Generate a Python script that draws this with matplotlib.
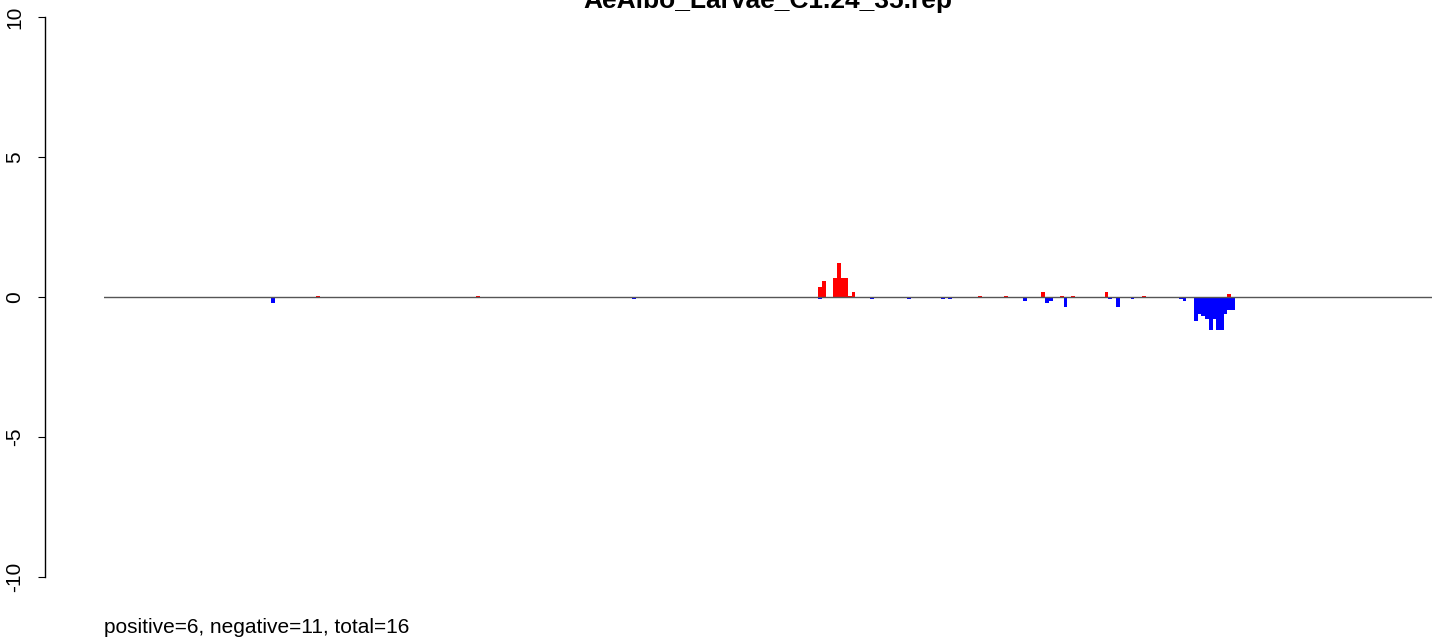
import numpy as np
import matplotlib as mpl
mpl.use('Agg')
import matplotlib.pyplot as plt

plt.rcParams['font.family'] = ['Liberation Sans', 'DejaVu Sans']

title = 'AeAlbo_Larvae_C1.24_35.rep'
footer = 'positive=6, negative=11, total=16'
nbins = 357

# positive (red) bins
pos_idx = [57, 100, 192, 193, 196, 197, 198, 199, 200, 201, 235, 242, 252,
           257, 260, 269, 279, 302]
pos_val = [0.04, 0.04, 0.36, 0.57, 0.68, 1.21, 0.68, 0.68, 0.04, 0.18, 0.05,
           0.05, 0.18, 0.05, 0.05, 0.18, 0.05, 0.11]

# negative (blue) bins
neg_idx = [45, 142, 192, 206, 216, 225, 227, 247, 253, 254, 258, 270, 272,
           276, 289, 290, 293, 294, 295, 296, 297, 298, 299, 300, 301, 302, 303]
neg_val = [-0.21, -0.07, -0.07, -0.07, -0.07, -0.07, -0.07, -0.14, -0.21,
           -0.14, -0.36, -0.07, -0.36, -0.07, -0.07, -0.14, -0.86, -0.61,
           -0.68, -0.77, -1.18, -0.77, -1.18, -1.18, -0.61, -0.46, -0.46]

yticks = [-10, -5, 0, 5, 10]

W, H = 1444, 643
fig = plt.figure(figsize=(W / 100, H / 100), dpi=100)
# plot region in pixels: x 104..1432, y 5.8..588.2
ax = fig.add_axes([104 / W, (H - 588.2) / H, 1328 / W, 582.4 / H])

ax.bar(pos_idx, pos_val, width=1, align='edge', color='#ff0000', linewidth=0)
ax.bar(neg_idx, neg_val, width=1, align='edge', color='#0000ff', linewidth=0)
ax.axhline(0, color='#555555', linewidth=1, zorder=5)

ax.set_xlim(0, nbins)
ax.set_ylim(-10.4, 10.4)

for s in ['top', 'right', 'bottom']:
    ax.spines[s].set_visible(False)
ax.spines['left'].set_position(('outward', 42.5))
ax.spines['left'].set_bounds(-10, 10)
ax.spines['left'].set_linewidth(1)
ax.set_xticks([])
ax.set_yticks(yticks)
ax.set_yticklabels([str(t) for t in yticks])
ax.tick_params(axis='y', length=5, width=0.8, pad=10, labelsize=15)
for lab in ax.get_yticklabels():
    lab.set_rotation(90)
    lab.set_va('center')
    lab.set_ha('right')

fig.text(768 / W, 1 - 8 / H, title, ha='center', va='baseline',
         fontsize=19, fontweight='bold')
fig.text(104 / W, 1 - 633 / H, footer, ha='left', va='baseline', fontsize=15)

plt.savefig('out.png', dpi=100)
